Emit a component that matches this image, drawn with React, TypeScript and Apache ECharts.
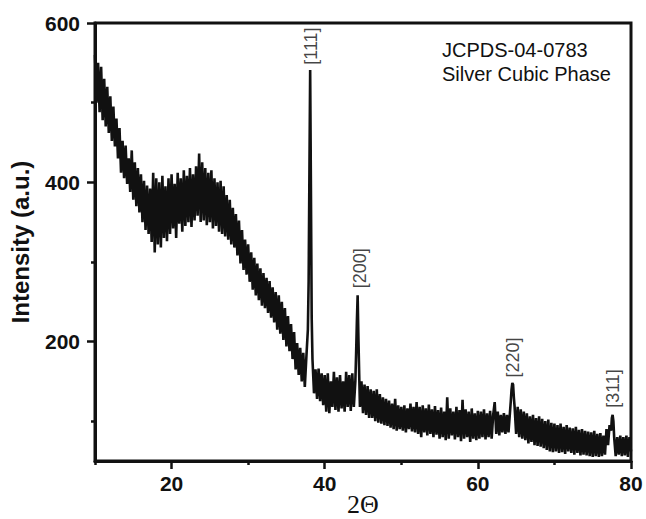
import React, { useEffect, useRef } from 'react';
import * as echarts from 'echarts';

// 2-theta grid of the scan (degrees)
const THETA_START = 10;
const THETA_STEP = 0.2;

// Intensity, one value per 0.2 deg from 10.0 to 80.0
const intensity = [
  560, 500, 550, 488, 545, 478, 530, 470, 520, 462, 508,
  452, 495, 445, 480, 430, 468, 412, 452, 405, 446,
  398, 430, 388, 440, 378, 425, 370, 418, 362, 410,
  350, 402, 340, 396, 335, 392, 325, 412, 312, 405,
  322, 400, 318, 408, 330, 395, 326, 405, 335, 410,
  342, 398, 330, 412, 348, 405, 338, 415, 345, 408,
  350, 418, 344, 410, 352, 420, 358, 436, 350, 425,
  352, 418, 346, 412, 350, 415, 342, 405, 345, 400,
  338, 402, 335, 395, 332, 384, 328, 378, 322, 368,
  318, 360, 308, 352, 298, 340, 290, 328, 284, 322,
  275, 312, 265, 305, 258, 298, 252, 292, 245, 286,
  242, 280, 236, 276, 230, 268, 224, 262, 215, 258,
  210, 250, 202, 242, 194, 232, 188, 222, 178, 212,
  165, 198, 158, 192, 150, 186, 143, 180, 215, 410,
  390, 178, 135, 165, 128, 166, 125, 160, 120, 158,
  112, 160, 110, 150, 118, 162, 114, 155, 112, 158,
  116, 150, 112, 162, 118, 158, 113, 160, 118, 150,
  225, 205, 118, 150, 110, 146, 108, 144, 104, 140,
  104, 138, 100, 140, 98, 134, 97, 130, 95, 128,
  94, 126, 92, 122, 90, 128, 88, 120, 90, 118,
  88, 120, 86, 116, 90, 122, 87, 118, 86, 124,
  84, 118, 80, 120, 86, 116, 82, 121, 84, 115,
  80, 119, 83, 114, 78, 117, 80, 112, 76, 130,
  78, 116, 82, 112, 77, 118, 80, 114, 75, 127,
  78, 115, 80, 112, 74, 116, 78, 110, 76, 113,
  78, 112, 80, 115, 77, 110, 80, 113, 78, 108,
  124, 84, 112, 82, 108, 86, 110, 84, 108, 86,
  112, 140, 146, 118, 84, 118, 80, 115, 78, 112,
  76, 110, 72, 106, 74, 108, 70, 104, 69, 106,
  68, 103, 66, 100, 64, 102, 62, 98, 61, 97,
  62, 95, 60, 97, 61, 93, 59, 95, 62, 92,
  60, 91, 58, 93, 60, 89, 57, 90, 58, 88,
  57, 87, 56, 86, 55, 88, 56, 84, 55, 85,
  56, 82, 58, 90, 70, 95, 88, 108, 80, 56,
  80, 58, 82, 56, 80, 57, 82, 55, 80, 62,
];

// Extra points on the sharp Bragg peaks (between grid points)
const peakTheta = [37.9, 38.1, 38.3, 44.1, 44.3, 44.5, 64.3, 64.5, 64.7, 77.5, 77.7];
const peakIntensity = [275, 541, 230, 185, 258, 160, 125, 148, 130, 104, 100];

// Miller-index annotations
const peakLabels = ['[111]', '[200]', '[220]', '[311]'];
const peakLabelTheta = [38.25, 44.6, 64.6, 77.65];
const peakLabelIntensity = [571, 292, 180, 141];

const xMajorTicks = [20, 40, 60, 80];
const xMinorTicks = [10, 30, 50, 70];
const yMajorTicks = [200, 400, 600];
const yMinorTicks = [100, 300, 500];

const INK = '#111111';
const SANS = '"Liberation Sans", Arial, sans-serif';

export default function App() {
  const ref = useRef<HTMLDivElement>(null);

  useEffect(() => {
    if (!ref.current) return;
    const chart = echarts.init(ref.current, undefined, { renderer: 'svg' });

    const pts: number[][] = intensity.map((v, i) => [
      Math.round((THETA_START + i * THETA_STEP) * 10) / 10,
      v,
    ]);
    peakTheta.forEach((t, i) => pts.push([t, peakIntensity[i]]));
    pts.sort((a, b) => a[0] - b[0]);

    const labelData = peakLabels.map((l, i) => [peakLabelTheta[i], peakLabelIntensity[i], l]);

    const axisLine = { show: true, lineStyle: { color: INK, width: 3 } };

    chart.setOption({
      animation: false,
      backgroundColor: '#ffffff',
      grid: {
        left: 95,
        right: 15,
        top: 23,
        bottom: 58,
        outerBoundsMode: 'none',
        containLabel: false,
        show: true,
        borderColor: INK,
        borderWidth: 3,
        backgroundColor: 'transparent',
      },
      xAxis: [
        {
          type: 'value',
          min: 10,
          max: 80,
          position: 'bottom',
          name: '2\u0398',
          nameLocation: 'middle',
          nameGap: 30,
          nameMoveOverlap: false,
          nameTextStyle: { fontFamily: '"Liberation Serif", "Times New Roman", serif', fontSize: 26, lineHeight: 26, color: INK },
          axisLine,
          axisTick: { show: true, inside: false, length: 8, customValues: xMajorTicks, lineStyle: { color: INK, width: 2.5 } },
          axisLabel: { show: true, customValues: xMajorTicks, margin: 12, fontFamily: SANS, fontWeight: 'bold', fontSize: 21, color: INK },
          splitLine: { show: false },
        },
        {
          type: 'value',
          min: 10,
          max: 80,
          position: 'bottom',
          axisLine: { show: false },
          axisTick: { show: true, inside: false, length: 4, customValues: xMinorTicks, lineStyle: { color: INK, width: 2.5 } },
          axisLabel: { show: false },
          splitLine: { show: false },
        },
      ],
      yAxis: [
        {
          type: 'value',
          min: 50,
          max: 600,
          position: 'left',
          name: 'Intensity (a.u.)',
          nameLocation: 'middle',
          nameGap: 63,
          nameMoveOverlap: false,
          nameTextStyle: { fontFamily: SANS, fontWeight: 'bold', fontSize: 24, color: INK },
          axisLine,
          axisTick: { show: true, inside: false, length: 8, customValues: yMajorTicks, lineStyle: { color: INK, width: 2.5 } },
          axisLabel: { show: true, customValues: yMajorTicks, margin: 15, fontFamily: SANS, fontWeight: 'bold', fontSize: 21, color: INK },
          splitLine: { show: false },
        },
        {
          type: 'value',
          min: 50,
          max: 600,
          position: 'left',
          axisLine: { show: false },
          axisTick: { show: true, inside: false, length: 4, customValues: yMinorTicks, lineStyle: { color: INK, width: 2.5 } },
          axisLabel: { show: false },
          splitLine: { show: false },
        },
      ],
      graphic: [
        {
          type: 'text',
          left: 442,
          top: 38,
          style: {
            text: 'JCPDS-04-0783\nSilver Cubic Phase',
            font: '20px "Liberation Sans", Arial, sans-serif',
            lineHeight: 24,
            fill: INK,
          },
        },
      ],
      series: [
        {
          type: 'line',
          data: pts,
          showSymbol: false,
          symbol: 'none',
          clip: true,
          lineStyle: { color: INK, width: 2.6 },
          z: 2,
        },
        {
          type: 'scatter',
          data: labelData,
          symbolSize: 1,
          itemStyle: { color: 'rgba(0,0,0,0)' },
          label: {
            show: true,
            position: 'inside',
            rotate: 90,
            formatter: (p: any) => p.value[2],
            fontFamily: SANS,
            fontSize: 18,
            color: INK,
          },
          z: 3,
        },
      ],
    });

    return () => chart.dispose();
  }, []);

  return (
    <div
      ref={ref}
      style={{ position: 'fixed', left: 0, top: 0, width: 646, height: 519, background: '#fff' }}
    />
  );
}
